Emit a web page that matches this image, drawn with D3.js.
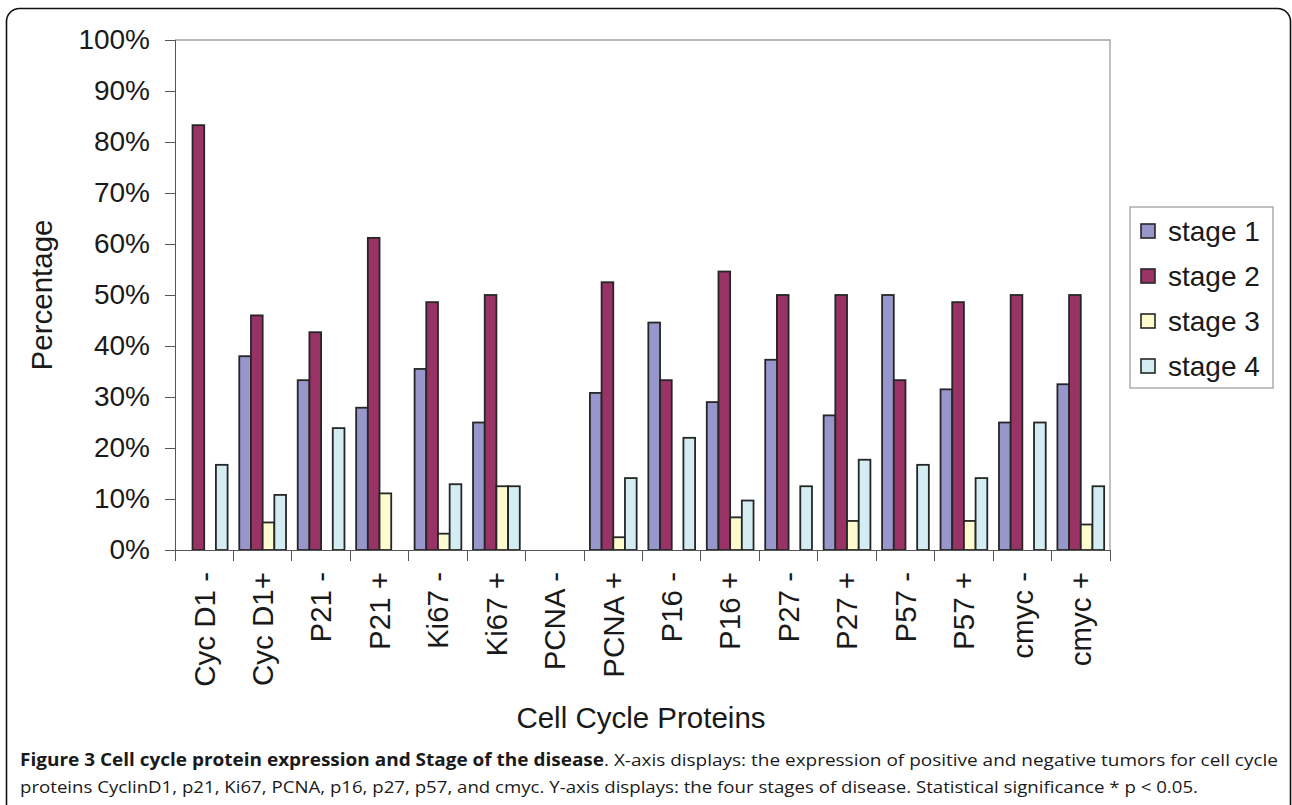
<html>
  <head>
    <meta charset="utf-8" />
    <script src="https://d3js.org/d3.v7.min.js"></script>
    <style>
      body { margin: 0; background: #ffffff; }
      svg { display: block; }
      .axis text { font-family: "Liberation Sans", Arial, sans-serif; fill: #1a1a1a; }
      .axis path, .axis line { stroke: #555555; shape-rendering: crispEdges; }
    </style>
  </head>
  <body>
    <svg width="1292" height="805"></svg>
    <script>
      // categories and series
      const categories = ["Cyc D1 -", "Cyc D1+", "P21 -", "P21 +", "Ki67 -", "Ki67 +", "PCNA -", "PCNA +",
        "P16 -", "P16 +", "P27 -", "P27 +", "P57 -", "P57 +", "cmyc -", "cmyc +"];
      const stages = ["stage 1", "stage 2", "stage 3", "stage 4"];
      const stage1 = [0, 38.0, 33.3, 27.9, 35.5, 25.0, 0, 30.8, 44.6, 29.0, 37.3, 26.4, 50.0, 31.5, 25.0, 32.5];
      const stage2 = [83.3, 46.0, 42.7, 61.2, 48.6, 50.0, 0, 52.5, 33.3, 54.6, 50.0, 50.0, 33.3, 48.6, 50.0, 50.0];
      const stage3 = [0, 5.4, 0, 11.1, 3.2, 12.5, 0, 2.5, 0, 6.4, 0, 5.7, 0, 5.7, 0, 5.0];
      const stage4 = [16.7, 10.8, 23.9, 0, 12.9, 12.5, 0, 14.1, 22.0, 9.7, 12.5, 17.7, 16.7, 14.1, 25.0, 12.5];
      const yTicks = [0, 10, 20, 30, 40, 50, 60, 70, 80, 90, 100];
      const colors = ["#9797cb", "#993366", "#fefbcf", "#d3edf3"];

      const series = [stage1, stage2, stage3, stage4];
      const rows = categories.map((c, i) => ({ cat: c, vals: series.map((s) => s[i]) }));

      const svg = d3.select("svg");
      const plotL = 175, plotR = 1110, plotT = 40, plotB = 550;

      // outer figure frame
      svg.append("rect")
        .attr("x", 6.5).attr("y", 8.5)
        .attr("width", 1284).attr("height", 830)
        .attr("rx", 13).attr("ry", 13)
        .attr("fill", "none").attr("stroke", "#111").attr("stroke-width", 1.6);

      const x = d3.scaleBand().domain(categories).range([plotL, plotR])
        .paddingInner(0.2).paddingOuter(0.1);
      const xs = d3.scaleBand().domain(d3.range(4)).range([0, x.bandwidth()]);
      const y = d3.scaleLinear().domain([0, 100]).range([plotB, plotT]);

      // plot frame (top and right)
      svg.append("path")
        .attr("d", `M${plotL},${plotT}H${plotR}V${plotB}`)
        .attr("fill", "none").attr("stroke", "#a0a0a0").attr("stroke-width", 1.3);

      // bars
      const groups = svg.selectAll("g.cat").data(rows).enter().append("g")
        .attr("class", "cat")
        .attr("transform", (d) => `translate(${x(d.cat)},0)`);
      groups.selectAll("rect")
        .data((d) => d.vals.map((v, k) => ({ v: v, k: k })).filter((e) => e.v > 0))
        .enter().append("rect")
        .attr("x", (e) => xs(e.k))
        .attr("y", (e) => y(e.v))
        .attr("width", xs.bandwidth())
        .attr("height", (e) => y(0) - y(e.v))
        .attr("fill", (e) => colors[e.k])
        .attr("stroke", "#262626").attr("stroke-width", 1.8);

      // y axis
      const yAxis = d3.axisLeft(y).tickValues(yTicks).tickFormat((d) => d + "%")
        .tickSize(10).tickPadding(15);
      const yg = svg.append("g").attr("class", "axis").attr("transform", `translate(${plotL},0)`).call(yAxis);
      yg.selectAll("text").style("font-size", "28px");

      // x axis: labels at band centres, ticks at band boundaries
      const xAxis = d3.axisBottom(x).tickSize(0).tickPadding(0);
      const xg = svg.append("g").attr("class", "axis").attr("transform", `translate(0,${plotB})`).call(xAxis);
      xg.selectAll("text")
        .style("font-size", "29.5px")
        .attr("text-anchor", "end")
        .attr("transform", "rotate(-90)")
        .attr("x", -22).attr("y", 0).attr("dy", "0.35em");
      const step = x.step();
      xg.selectAll("line.bound")
        .data(categories.concat(["end"]))
        .enter().append("line").attr("class", "bound")
        .attr("x1", (d, i) => plotL + i * step).attr("x2", (d, i) => plotL + i * step)
        .attr("y1", 0).attr("y2", 11);

      // axis titles
      svg.append("text")
        .attr("transform", `translate(52,${(plotT + plotB) / 2}) rotate(-90)`)
        .attr("text-anchor", "middle")
        .style("font-family", "'Liberation Sans', Arial, sans-serif")
        .style("font-size", "29.5px").attr("fill", "#1a1a1a")
        .text("Percentage");
      svg.append("text")
        .attr("x", 641).attr("y", 728)
        .attr("text-anchor", "middle")
        .style("font-family", "'Liberation Sans', Arial, sans-serif")
        .style("font-size", "29.5px").attr("fill", "#1a1a1a")
        .text("Cell Cycle Proteins");

      // legend
      const lg = svg.append("g").attr("transform", "translate(1130,207)");
      lg.append("rect").attr("width", 143).attr("height", 181)
        .attr("fill", "#fff").attr("stroke", "#a0a0a0").attr("stroke-width", 1.3);
      const li = lg.selectAll("g.item").data(stages).enter().append("g")
        .attr("class", "item")
        .attr("transform", (d, i) => `translate(11,${24 + i * 45})`);
      li.append("rect").attr("x", 0).attr("y", -7).attr("width", 14).attr("height", 14)
        .attr("fill", (d, i) => colors[i]).attr("stroke", "#262626").attr("stroke-width", 1.6);
      li.append("text").attr("x", 27).attr("y", 0).attr("dy", "0.36em")
        .style("font-family", "'Liberation Sans', Arial, sans-serif")
        .style("font-size", "28px").attr("fill", "#1a1a1a")
        .text((d) => d);

      // caption
      const cap = svg.append("g")
        .style("font-family", "'Open Sans', 'Noto Sans', sans-serif")
        .style("font-size", "17px").attr("fill", "#1a1a1a");
      const l1 = cap.append("text").attr("x", 20).attr("y", 766)
        .attr("textLength", 1258).attr("lengthAdjust", "spacingAndGlyphs");
      l1.append("tspan").style("font-weight", "bold")
        .text("Figure 3 Cell cycle protein expression and Stage of the disease");
      l1.append("tspan").text(". X-axis displays: the expression of positive and negative tumors for cell cycle");
      cap.append("text").attr("x", 20).attr("y", 793)
        .attr("textLength", 1178).attr("lengthAdjust", "spacingAndGlyphs")
        .text("proteins CyclinD1, p21, Ki67, PCNA, p16, p27, p57, and cmyc. Y-axis displays: the four stages of disease. Statistical significance * p < 0.05.");
    </script>
  </body>
</html>
